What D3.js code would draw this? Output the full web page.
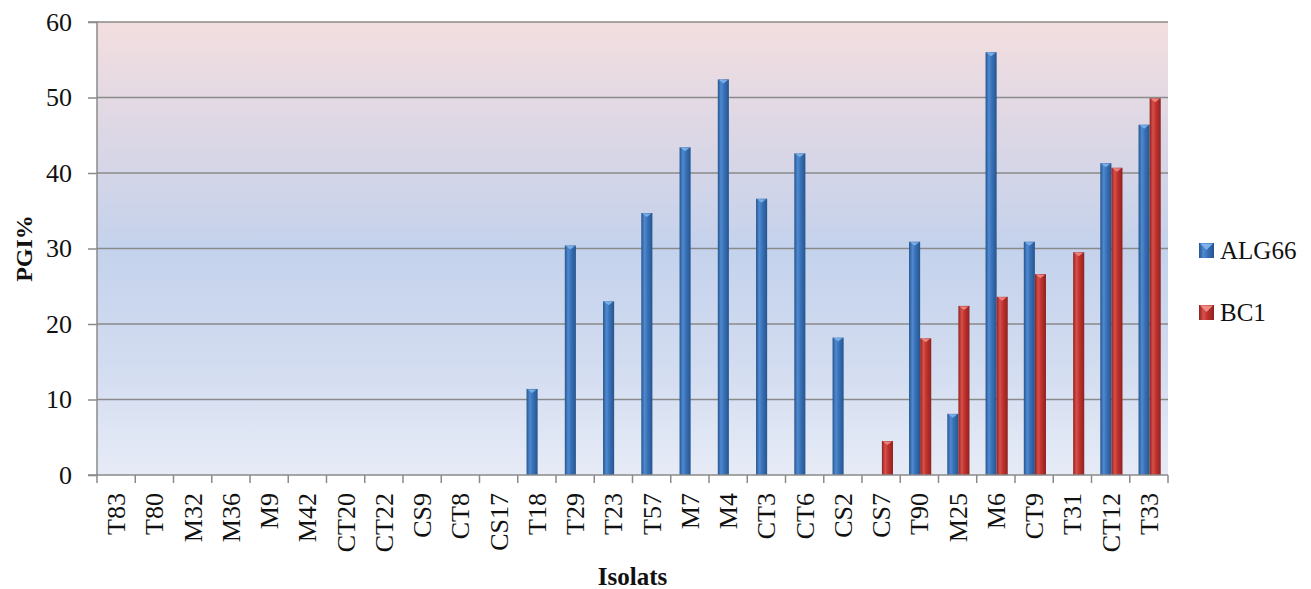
<!DOCTYPE html>
<html><head><meta charset="utf-8">
<script src="https://cdn.jsdelivr.net/npm/d3@7"></script>
<style>body{margin:0;background:#fff;} svg{display:block;}</style>
</head><body>
<svg id="chart" width="1311" height="589"></svg>
<script>
const categories = ["T83","T80","M32","M36","M9","M42","CT20","CT22","CS9","CT8","CS17","T18","T29","T23","T57","M7","M4","CT3","CT6","CS2","CS7","T90","M25","M6","CT9","T31","CT12","T33"];
const alg66 = [0,0,0,0,0,0,0,0,0,0,0,11.4,30.4,23.0,34.7,43.4,52.4,36.6,42.6,18.2,0,30.9,8.1,56.0,30.9,0,41.3,46.4];
const bc1   = [0,0,0,0,0,0,0,0,0,0,0,0,0,0,0,0,0,0,0,0,4.5,18.1,22.4,23.6,26.6,29.5,40.7,49.9];
const seriesNames = ["ALG66","BC1"];
const yTicks = [0,10,20,30,40,50,60];

const svg = d3.select("#chart");
const m = {left:97, right:1311-1168, top:22, bottom:589-475};
const W = 1311 - m.left - m.right, H = 589 - m.top - m.bottom;
const font = "'Liberation Serif', 'Times New Roman', serif";
const fs = 26;

const defs = svg.append("defs");
const bg = defs.append("linearGradient").attr("id","bg").attr("x1",0).attr("y1",0).attr("x2",0).attr("y2",1);
[["0%","#f3dedf"],["25%","#dcd7e5"],["50%","#c4d2ec"],["75%","#d2dcf0"],["100%","#e6ebf6"]].forEach(s=>bg.append("stop").attr("offset",s[0]).attr("stop-color",s[1]));
function cyl(id, dark, mid, light){
  const g = defs.append("linearGradient").attr("id",id).attr("x1",0).attr("y1",0).attr("x2",1).attr("y2",0);
  [["0%",dark],["30%",light],["55%",mid],["100%",dark]].forEach(s=>g.append("stop").attr("offset",s[0]).attr("stop-color",s[1]));
}
cyl("gBlue","#25558f","#3a72b8","#4f8ad0");
cyl("gRed","#8f2220","#c1332f","#d8504a");

const g = svg.append("g").attr("transform",`translate(${m.left},${m.top})`);
const x = d3.scaleBand().domain(categories).range([0,W]).paddingInner(0).paddingOuter(0);
const x1 = d3.scaleBand().domain(seriesNames).range([x.bandwidth()*0.23, x.bandwidth()*0.81]);
const y = d3.scaleLinear().domain([0,60]).range([H,0]);

g.append("rect").attr("width",W).attr("height",H).attr("fill","url(#bg)");

// gridlines
g.selectAll("line.grid").data(yTicks.filter(t=>t>0)).join("line")
  .attr("x1",0).attr("x2",W).attr("y1",d=>y(d)).attr("y2",d=>y(d))
  .attr("stroke","#8a8a8a").attr("stroke-width",1.5);

// bars
const data = seriesNames.map((s,i)=>({name:s, vals: i===0?alg66:bc1, fill: i===0?"url(#gBlue)":"url(#gRed)", cap: i===0?"#7fb2ea":"#f08a84"}));
data.forEach(s=>{
  const gg = g.append("g");
  const pts = categories.map((c,i)=>({c, v:s.vals[i]})).filter(d=>d.v>0);
  gg.selectAll("rect").data(pts).join("rect")
    .attr("x",d=>x(d.c)+x1(s.name)).attr("width",x1.bandwidth())
    .attr("y",d=>y(d.v)).attr("height",d=>H-y(d.v))
    .attr("fill",s.fill);
  gg.selectAll("path.cap").data(pts).join("path").attr("class","cap")
    .attr("d",d=>{const x0=x(d.c)+x1(s.name), w=x1.bandwidth(), yy=y(d.v);
      return `M${x0+1},${yy+0.5} L${x0+w-1},${yy+0.5} L${x0+w/2},${yy+4} Z`;})
    .attr("fill",s.cap).attr("opacity",0.9);
});

// axes
const yAxis = g.append("g").call(d3.axisLeft(y).tickValues(yTicks).tickSize(9).tickPadding(16).tickFormat(d3.format("d")));
yAxis.select(".domain").attr("stroke","#8a8a8a").attr("stroke-width",1.5).attr("d",`M-9,0H0V${H}H-9`);
yAxis.selectAll(".tick line").attr("stroke","#8a8a8a").attr("stroke-width",1.5);
yAxis.selectAll(".tick text").attr("font-family",font).attr("font-size",fs).attr("fill","#111");

const xb = g.append("g").attr("transform",`translate(0,${H})`);
xb.append("line").attr("x1",0).attr("x2",W).attr("stroke","#8a8a8a").attr("stroke-width",1.5);
xb.selectAll("line.tk").data(d3.range(categories.length+1)).join("line").attr("class","tk")
  .attr("x1",i=>i*x.step()).attr("x2",i=>i*x.step()).attr("y1",0).attr("y2",8)
  .attr("stroke","#8a8a8a").attr("stroke-width",1.5);
xb.selectAll("text").data(categories).join("text")
  .attr("transform",d=>`translate(${x(d)+x.bandwidth()/2+9},18) rotate(-90)`)
  .attr("text-anchor","end").attr("font-family",font).attr("font-size",fs).attr("fill","#111")
  .text(d=>d);

// titles
svg.append("text").attr("transform",`translate(32,${m.top+H/2}) rotate(-90)`).attr("text-anchor","middle")
  .attr("font-family",font).attr("font-weight","bold").attr("font-size",24).attr("fill","#111").text("PGI%");
svg.append("text").attr("x",m.left+W/2).attr("y",585).attr("text-anchor","middle")
  .attr("font-family",font).attr("font-weight","bold").attr("font-size",25).attr("fill","#111").text("Isolats");

// legend
const lg = svg.append("g").attr("transform","translate(1199,0)");
data.forEach((s,i)=>{
  const yy = [259,321][i];
  lg.append("rect").attr("x",0).attr("y",yy-16).attr("width",15).attr("height",15).attr("fill",s.fill);
  lg.append("path").attr("d",`M1,${yy-15.5} L14,${yy-15.5} L7.5,${yy-9} Z`).attr("fill",s.cap);
  lg.append("text").attr("x",21).attr("y",yy).attr("font-family",font).attr("font-size",25).attr("fill","#111").text(s.name);
});
</script>
</body></html>
